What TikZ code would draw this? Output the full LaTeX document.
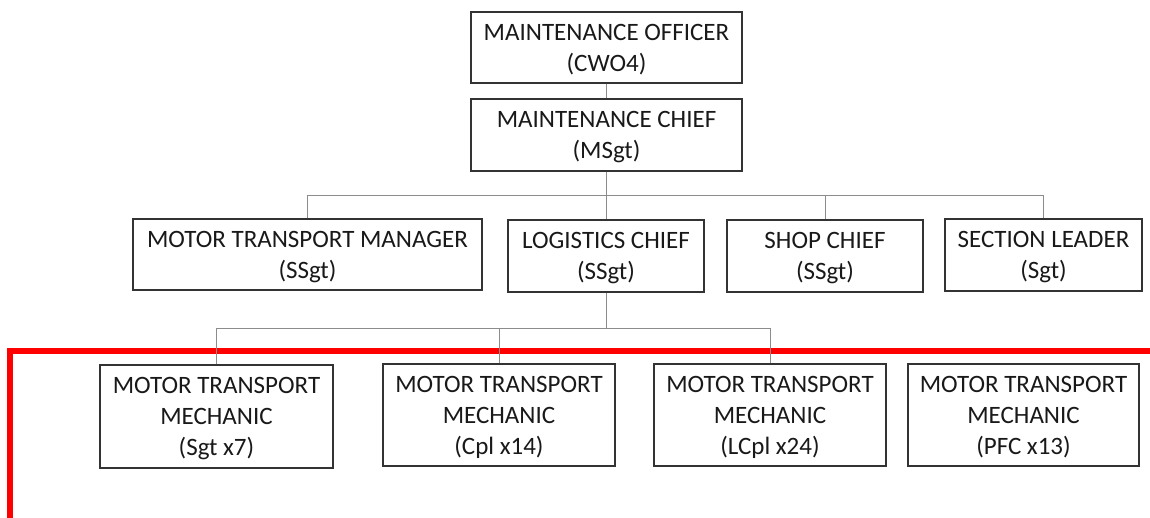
\documentclass[tikz,border=0pt]{standalone}
\usepackage{fontspec}
\setmainfont{Carlito}
\begin{document}
\begin{tikzpicture}[x=1pt,y=-1pt,
  box/.style={draw=black!80,line width=1.2pt,fill=white,align=center,inner sep=0pt,
    font=\fontsize{25}{31}\selectfont,text=black!90,text depth=-4.5pt},
  link/.style={draw=black!45,line width=1pt},
  redrule/.style={draw=red,line width=6pt}]
\useasboundingbox (0,0) rectangle (1150,518);
% top of the chain
\node[box,minimum width=271pt,minimum height=71pt] (officer) at (606.5,47.5) {MAINTENANCE OFFICER\\(CWO4)};
\node[box,minimum width=271pt,minimum height=72pt] (chief) at (606.5,135) {MAINTENANCE CHIEF\\(MSgt)};
% second tier
\node[box,minimum width=349pt,minimum height=71pt] (mtm) at (307.5,254.5) {MOTOR TRANSPORT MANAGER\\(SSgt)};
\node[box,minimum width=196pt,minimum height=72pt] (log) at (606,256) {LOGISTICS CHIEF\\(SSgt)};
\node[box,minimum width=196pt,minimum height=72pt] (shop) at (825,256) {SHOP CHIEF\\(SSgt)};
\node[box,minimum width=197pt,minimum height=72pt] (sec) at (1043.5,255) {SECTION LEADER\\(Sgt)};
% mechanics
\node[box,minimum width=233pt,minimum height=103pt] (m1) at (216.5,416.5) {MOTOR TRANSPORT\\MECHANIC\\(Sgt x7)};
\node[box,minimum width=232pt,minimum height=102pt] (m2) at (499,415) {MOTOR TRANSPORT\\MECHANIC\\(Cpl x14)};
\node[box,minimum width=232pt,minimum height=102pt] (m3) at (770,415) {MOTOR TRANSPORT\\MECHANIC\\(LCpl x24)};
\node[box,minimum width=231pt,minimum height=102pt] (m4) at (1023.5,415) {MOTOR TRANSPORT\\MECHANIC\\(PFC x13)};
% red bracket around the mechanics
\coordinate (rc) at (9.5,351);
\coordinate (rr) at (1150,351);
\coordinate (rb) at (9.5,518);
\draw[redrule] (rr) -- (rc) -- (rb);
% connectors
\coordinate (bus1) at (606.5,196);
\coordinate (bus2) at (606,328);
\draw[link] (officer.south) -- (chief.south |- officer.south) -- (chief.north);
\draw[link] (chief.south) -- (bus1);
\draw[link] (mtm.north) -- (mtm.north |- bus1) -- (sec.north |- bus1) -- (sec.north);
\draw[link] (log.north) -- (log.north |- bus1);
\draw[link] (shop.north) -- (shop.north |- bus1);
\draw[link] (log.south) -- (bus2);
\draw[link] (m1.north) -- (m1.north |- bus2) -- (m3.north |- bus2) -- (m3.north);
\draw[link] (m2.north) -- (m2.north |- bus2);
\end{tikzpicture}
\end{document}
